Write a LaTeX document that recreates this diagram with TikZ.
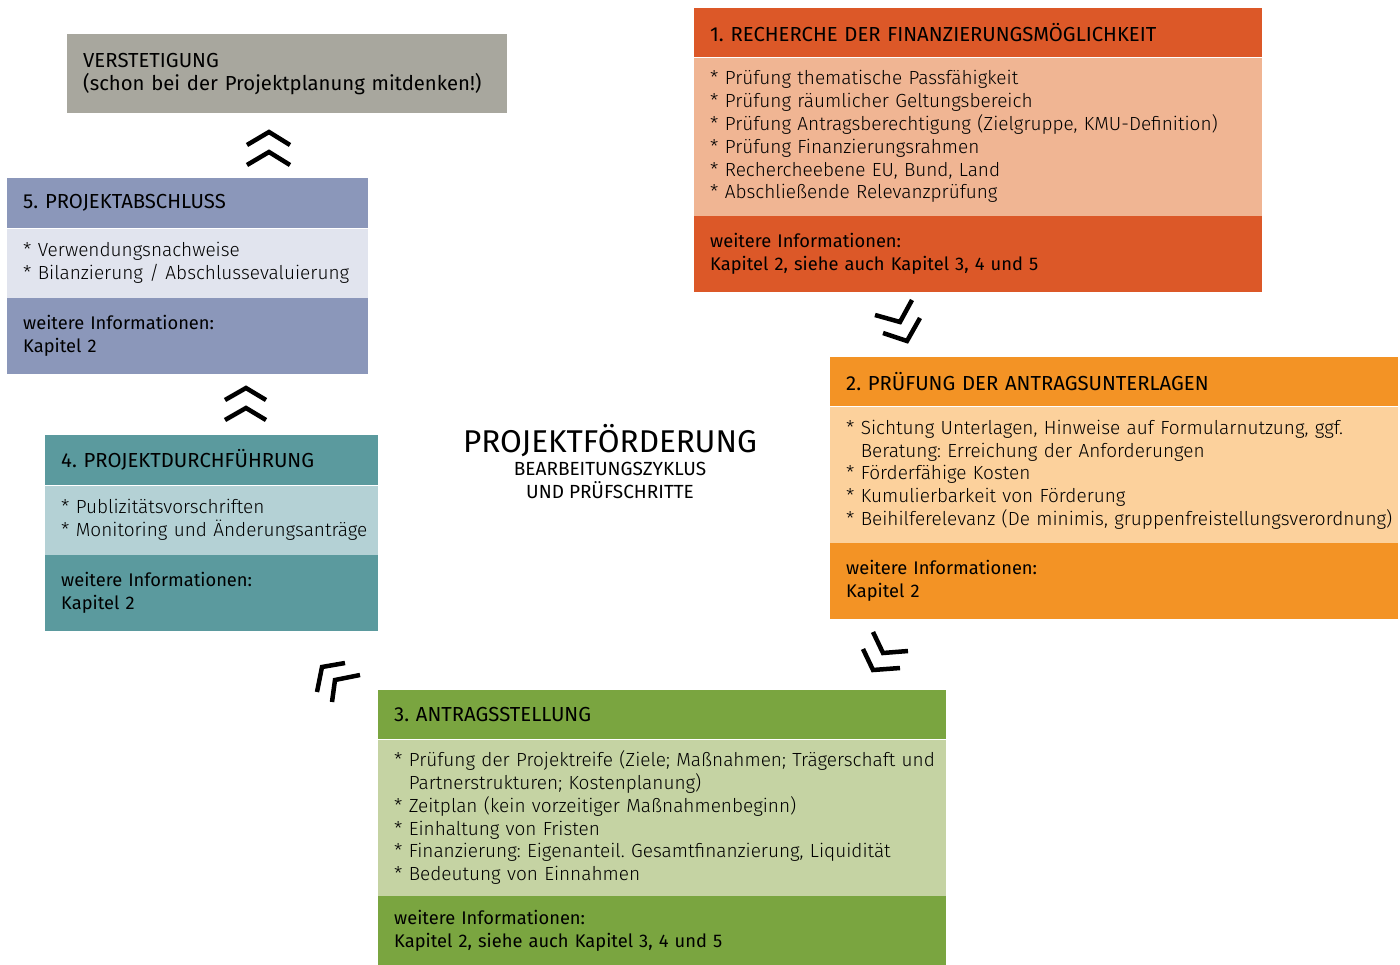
\documentclass[tikz,border=0pt]{standalone}
\usepackage{fontspec}
\IfFontExistsTF{Fira Sans Light}{\setmainfont{Fira Sans Light}}{\setmainfont{Fira Sans}}
\newfontfamily\regfont{Fira Sans}
\usetikzlibrary{positioning}
\frenchspacing

\definecolor{recherche}{HTML}{DC5828}
\definecolor{recherchelight}{HTML}{F0B593}
\definecolor{pruefung}{HTML}{F39325}
\definecolor{pruefunglight}{HTML}{FCD19C}
\definecolor{antrag}{HTML}{7AA540}
\definecolor{antraglight}{HTML}{C5D3A3}
\definecolor{durchf}{HTML}{5B9A9E}
\definecolor{durchflight}{HTML}{B4D1D5}
\definecolor{abschluss}{HTML}{8B97BA}
\definecolor{abschlusslight}{HTML}{E1E4EE}
\definecolor{verstet}{HTML}{A8A79E}

% eine Zeile ohne Umbruch
\newcommand{\zeile}[1]{\mbox{#1}}

\tikzstyle{head} = [rectangle, anchor=north west, inner xsep=16pt, inner ysep=0pt, align=left, minimum height=49pt, font=\regfont\fontsize{20.3}{23}\selectfont]
\tikzstyle{body} = [rectangle, inner xsep=16pt, inner ysep=0pt, align=left, font=\fontsize{19}{22.8}\selectfont]
\tikzstyle{foot} = [rectangle, inner xsep=16pt, inner ysep=0pt, align=left, minimum height=76pt, font=\regfont\fontsize{18.3}{23}\selectfont]
\tikzstyle{chevron} = [line width=4.5pt, line join=miter]

\begin{document}
\begin{tikzpicture}[x=1pt, y=-1pt]
\useasboundingbox (0,0) rectangle (1400,965);

% 1. Recherche
\node[head, fill=recherche, text width=536pt] (h1) at (694,8) {1. RECHERCHE DER FINANZIERUNGSMÖGLICHKEIT};
\node[body, fill=recherchelight, text width=536pt, minimum height=158pt, below=0pt of h1] (b1)
  {{*} Prüfung thematische Passfähigkeit\\
   {*} Prüfung räumlicher Geltungsbereich\\
   \zeile{* Prüfung Antragsberechtigung (Zielgruppe, KMU-Definition)}\\
   {*} Prüfung Finanzierungsrahmen\\
   {*} Rechercheebene EU, Bund, Land\\
   {*} Abschließende Relevanzprüfung};
\node[foot, fill=recherche, text width=536pt, below=0pt of b1] (f1)
  {weitere Informationen:\\Kapitel 2, siehe auch Kapitel 3, 4 und 5};

% 2. Pruefung
\node[head, fill=pruefung, text width=536pt] (h2) at (830,357) {2. PRÜFUNG DER ANTRAGSUNTERLAGEN};
\node[body, fill=pruefunglight, text width=536pt, minimum height=136pt, below=0pt of h2] (b2)
  {\zeile{* Sichtung Unterlagen, Hinweise auf Formularnutzung, ggf.}\\
   \phantom{* }Beratung: Erreichung der Anforderungen\\
   {*} Förderfähige Kosten\\
   {*} Kumulierbarkeit von Förderung\\
   \zeile{* Beihilferelevanz (De minimis, gruppenfreistellungsverordnung)}};
\node[foot, fill=pruefung, text width=536pt, below=0pt of b2] (f2)
  {weitere Informationen:\\Kapitel 2};

% 3. Antragsstellung
\node[head, fill=antrag, text width=536pt] (h3) at (378,690) {3. ANTRAGSSTELLUNG};
\node[body, fill=antraglight, text width=536pt, minimum height=156pt, below=0pt of h3] (b3)
  {\zeile{* Prüfung der Projektreife (Ziele; Maßnahmen; Trägerschaft und}\\
   \phantom{* }Partnerstrukturen; Kostenplanung)\\
   {*} Zeitplan (kein vorzeitiger Maßnahmenbeginn)\\
   {*} Einhaltung von Fristen\\
   \zeile{* Finanzierung: Eigenanteil. Gesamtfinanzierung, Liquidität}\\
   {*} Bedeutung von Einnahmen};
\node[foot, fill=antrag, text width=536pt, minimum height=70pt, below=0pt of b3] (f3)
  {weitere Informationen:\\Kapitel 2, siehe auch Kapitel 3, 4 und 5};

% 4. Projektdurchfuehrung
\node[head, fill=durchf, text width=301pt, minimum height=50pt] (h4) at (45,435) {4. PROJEKTDURCHFÜHRUNG};
\node[body, fill=durchflight, text width=301pt, minimum height=69pt, below=0pt of h4] (b4)
  {{*} Publizitätsvorschriften\\
   \zeile{* Monitoring und Änderungsanträge}};
\node[foot, fill=durchf, text width=301pt, below=0pt of b4] (f4)
  {weitere Informationen:\\Kapitel 2};

% 5. Projektabschluss
\node[head, fill=abschluss, text width=329pt, minimum height=50pt] (h5) at (7,178) {5. PROJEKTABSCHLUSS};
\node[body, fill=abschlusslight, text width=329pt, minimum height=69pt, below=0pt of h5] (b5)
  {{*} Verwendungsnachweise\\
   \zeile{* Bilanzierung / Abschlussevaluierung}};
\node[foot, fill=abschluss, text width=329pt, below=0pt of b5] (f5)
  {weitere Informationen:\\Kapitel 2};

% Verstetigung
\node[head, fill=verstet, text width=408pt, minimum height=79pt] (vs) at (67,34)
  {VERSTETIGUNG\\(schon bei der Projektplanung mitdenken!)};

% Titel
\node[font=\regfont\fontsize{31.5}{32}\selectfont] (title) at (610,441) {PROJEKTFÖRDERUNG};
\node[align=center, font=\regfont\fontsize{19}{23}\selectfont] (sub) at (610,480)
  {BEARBEITUNGSZYKLUS\\UND PRÜFSCHRITTE};

% Chevrons
\draw[chevron] (875,315) -- (900,322) -- (912,300);
\draw[chevron] (883,333) -- (907,341) -- (920,318);
\draw[chevron] (873,632) -- (883,653) -- (908,651);
\draw[chevron] (863,649) -- (873,670) -- (900,668);
\draw[chevron] (317,692) -- (322,667) -- (345,663);
\draw[chevron] (332,702) -- (335,680) -- (360,675);
\draw[chevron] (225,400) -- (246,388) -- (266,400);
\draw[chevron] (225,420) -- (246,408) -- (266,420);
\draw[chevron] (247,145) -- (269,132) -- (290,145);
\draw[chevron] (247,165) -- (269,152) -- (290,165);
\end{tikzpicture}
\end{document}
